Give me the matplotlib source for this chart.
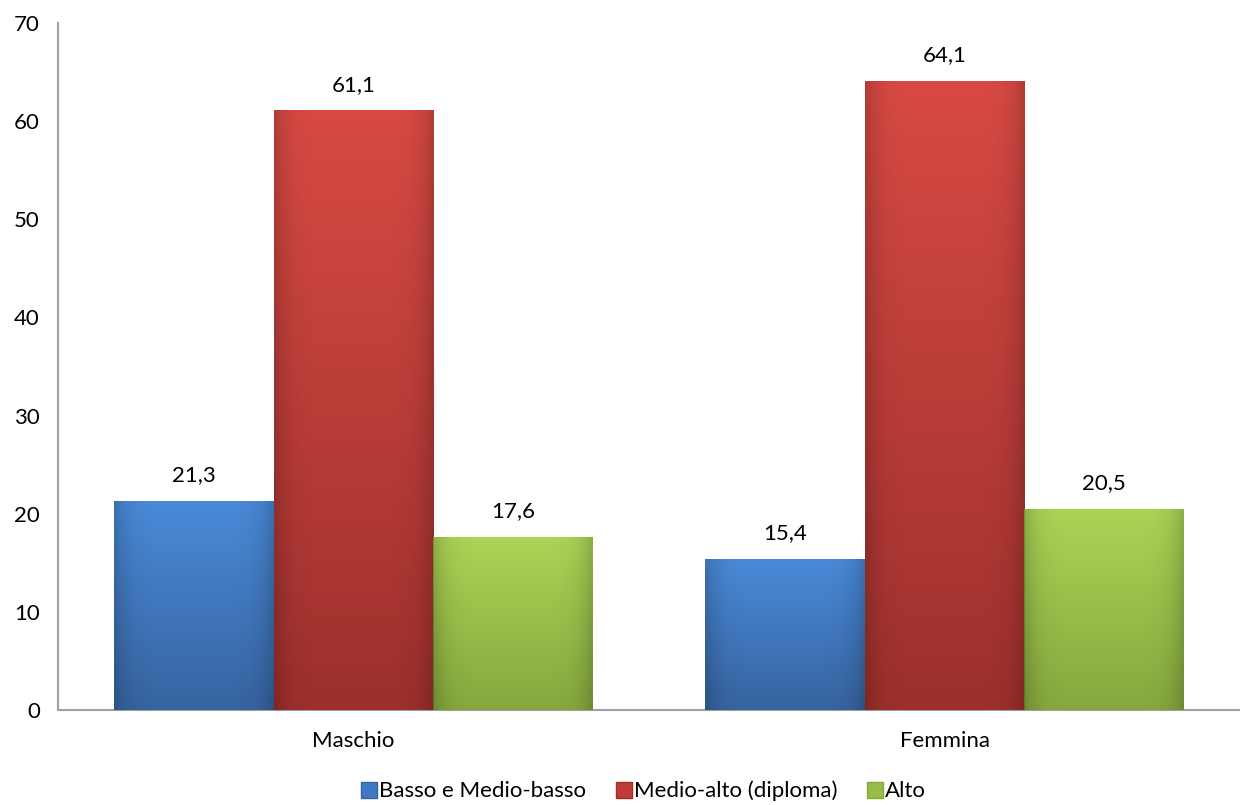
import matplotlib
matplotlib.use("Agg")
import matplotlib.pyplot as plt
import numpy as np
from matplotlib.colors import LinearSegmentedColormap
from matplotlib.lines import Line2D

categories = ["Maschio", "Femmina"]
series_names = ["Basso e Medio-basso", "Medio-alto (diploma)", "Alto"]
basso = [21.3, 15.4]
medio_alto = [61.1, 64.1]
alto = [17.6, 20.5]
labels_basso = ["21,3", "15,4"]
labels_medio = ["61,1", "64,1"]
labels_alto = ["17,6", "20,5"]
yticks = [0, 10, 20, 30, 40, 50, 60, 70]

plt.rcParams['font.family'] = ['Lato', 'DejaVu Sans']
FS = 16

fig = plt.figure(figsize=(12.4, 8.05), dpi=100)
ax = fig.add_axes([58/1240, 1-710/805, 1-58/1240, (710-23)/805])

top_cols = ["#4a8ad8", "#d84a44", "#acd456"]
bot_cols = ["#3764a0", "#9c302c", "#86a83e"]
mid_cols = ["#3f78c4", "#c03a36", "#98bc48"]

x = np.arange(len(categories))
w = 0.27
data = [basso, medio_alto, alto]
labs = [labels_basso, labels_medio, labels_alto]
for i, (vals, lab) in enumerate(zip(data, labs)):
    pos = x + (i - 1) * w
    bars = ax.bar(pos, vals, width=w, color=mid_cols[i], edgecolor="none", zorder=2)
    cmap = LinearSegmentedColormap.from_list("g%d" % i, [bot_cols[i], top_cols[i]])
    for b, t in zip(bars, lab):
        x0, x1 = b.get_x(), b.get_x() + b.get_width()
        h = b.get_height()
        grad = np.linspace(0, 1, 256).reshape(-1, 1)
        im = ax.imshow(grad, extent=[x0, x1, 0, h], origin="lower", cmap=cmap,
                       aspect="auto", zorder=3)
        im.set_clip_path(b)
        hx = np.linspace(0, 1, 64)
        shade = np.tile((0.18 * (np.abs(hx - 0.5) * 2) ** 6)[None, :], (4, 1))
        rgba = np.zeros((4, 64, 4))
        rgba[..., 3] = shade
        im2 = ax.imshow(rgba, extent=[x0, x1, 0, h], origin="lower", aspect="auto", zorder=4)
        im2.set_clip_path(b)
        ax.text(b.get_x() + b.get_width() / 2, h + 1.6, t, ha="center", va="bottom",
                fontsize=FS, color="#000000", zorder=5)

ax.set_xlim(-0.5, 1.5)
ax.set_ylim(0, 70)
ax.set_yticks(yticks)
ax.set_yticklabels([str(v) for v in yticks], fontsize=FS)
ax.set_xticks(x)
ax.set_xticklabels(categories, fontsize=FS)
ax.tick_params(axis="y", length=0, pad=13)
ax.tick_params(axis="x", length=0, pad=15)
for s in ["top", "right"]:
    ax.spines[s].set_visible(False)
for s in ["left", "bottom"]:
    ax.spines[s].set_color("#a0a0a0")
    ax.spines[s].set_linewidth(1.5)
ax.set_axisbelow(True)

handles = [Line2D([0], [0], marker="s", linestyle="none", markersize=11,
                  markerfacecolor=mid_cols[i], markeredgecolor=bot_cols[i])
           for i in range(3)]
fig.legend(handles, series_names, loc="center", bbox_to_anchor=(643/1240, 1 - 791/805),
           ncol=3, frameon=False, fontsize=FS, handletextpad=0.05, columnspacing=1.3,
           handlelength=0.8)

fig.savefig("out.png", dpi=100)
